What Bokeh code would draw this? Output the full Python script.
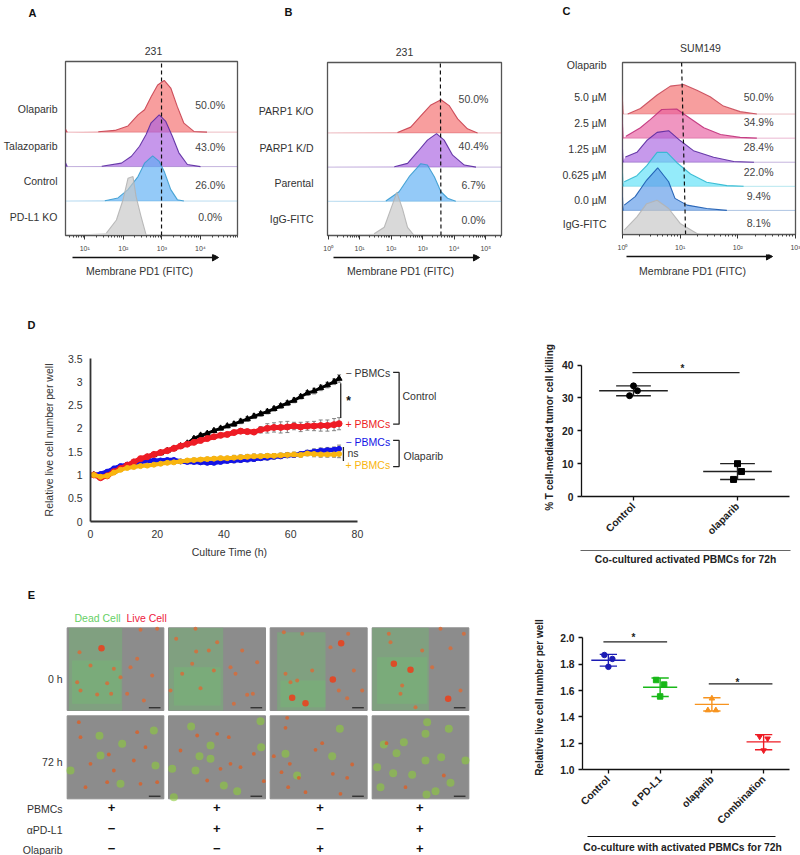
import math
import numpy as np
from bokeh.plotting import figure
from bokeh.layouts import column, row
from bokeh.models import Label, FixedTicker
from bokeh.core.properties import value
from bokeh.embed import file_html
from bokeh.resources import INLINE

FONT = "Liberation Sans"
TXT = "#333333"
TS = 10.5
BS = 10.3

# ---------- panel A (log10 intensity, height in row units)
a_ola_x = [1.35,1.78,2.12,2.38,2.55,2.72,2.89,3.06,3.23,3.40,3.57,3.83,4.17]
a_ola_h = [.01,.05,.18,.5,.65,1.03,1.37,1.5,1.28,.74,.26,.02,0]
a_tal_x = [1.44,1.95,2.21,2.42,2.59,2.72,2.93,3.10,3.27,3.44,3.66,4.0]
a_tal_h = [.01,.1,.3,.59,.93,1.27,1.5,1.31,.88,.4,.06,0]
a_con_x = [1.52,1.86,2.12,2.38,2.55,2.76,2.93,3.06,3.23,3.40,3.57]
a_con_h = [.01,.09,.33,.71,1.1,1.31,1.15,.86,.33,.04,0]
a_ko_x = [1.56,1.82,1.99,2.12,2.25,2.33,2.46,2.59]
a_ko_h = [.07,.45,1.03,1.66,1.71,1.13,.55,.02]
a_labels = ["Olaparib","Talazoparib","Control","PD-L1 KO"]
a_pct = ["50.0%","43.0%","26.0%","0.0%"]

# ---------- panel B
b_ko_x = [2.2,2.62,2.94,3.26,3.58,3.84,4.11,4.42,4.74]
b_ko_h = [.01,.17,.5,.82,.97,.8,.41,.12,0]
b_kd_x = [2.1,2.52,2.84,3.15,3.44,3.68,3.95,4.32,4.69]
b_kd_h = [.01,.11,.45,.79,.98,.79,.35,.06,0]
b_par_x = [1.83,2.25,2.57,2.94,3.15,3.37,3.58,3.79,4.05]
b_par_h = [.01,.28,.72,1.1,1.06,.72,.28,.09,0]
b_igg_x = [1.46,1.78,1.99,2.18,2.36,2.52,2.73]
b_igg_h = [.05,.24,.78,1.26,.78,.24,0]
b_labels = ["PARP1 K/O","PARP1 K/D","Parental","IgG-FITC"]
b_pct = ["50.0%","40.4%","6.7%","0.0%"]

# ---------- panel C
c_5_x = [.09,.31,.6,.83,1.06,1.29,1.52,1.75,2.04,2.33]
c_5_h = [0,.23,.79,1.16,1.23,.99,.72,.33,.1,0]
c_25_x = [.06,.31,.48,.68,.94,1.12,1.41,1.7,2.04,2.33]
c_25_h = [.08,.43,.77,1.19,1.21,.91,.43,.15,.03,0]
c_125_x = [.05,.25,.42,.6,.8,1.0,1.23,1.58,1.93,2.28]
c_125_h = [.22,.41,.9,1.24,1.31,.9,.48,.21,.03,0]
c_0625_x = [.03,.25,.42,.6,.77,.94,1.18,1.46,1.81,2.1]
c_0625_h = [.19,.44,.86,1.41,1.41,.99,.51,.17,.03,0]
c_0_x = [.03,.22,.42,.61,.8,.91,1.12,1.46,1.81]
c_0_h = [.22,.57,1.26,1.77,1.19,.5,.22,.08,0]
c_igg_x = [.03,.25,.42,.6,.8,1.0,1.29,1.35]
c_igg_h = [.18,.73,1.28,1.42,1.08,.46,.04,0]
c_labels = ["Olaparib","5.0 µM","2.5 µM","1.25 µM","0.625 µM","0.0 µM","IgG-FITC"]
c_pct = ["50.0%","34.9%","28.4%","22.0%","9.4%","8.1%"]

# ---------- panel D
d_t = [1,3,5,7,9,11,13,15,17,19,21,23,25,27,29,31,33,35,37,39,41,43,45,47,49,51,53,55,57,59,61,63,65,67,69,71,73,74.5]
d_ctrl_minus = [1.0,.95,1.0,1.07,1.13,1.2,1.27,1.33,1.38,1.43,1.47,1.52,1.57,1.62,1.68,1.78,1.85,1.89,1.95,2.0,2.05,2.09,2.15,2.2,2.26,2.31,2.36,2.42,2.48,2.54,2.6,2.68,2.76,2.8,2.87,2.93,3.0,3.07]
d_ctrl_plus = [1.0,.94,.98,1.07,1.14,1.21,1.28,1.35,1.39,1.44,1.48,1.52,1.57,1.62,1.66,1.70,1.74,1.78,1.82,1.85,1.87,1.91,1.94,1.93,1.92,1.97,2.0,2.02,2.02,2.03,2.05,2.03,2.05,2.05,2.06,2.06,2.08,2.1]
d_ola_minus = [1.0,1.02,1.07,1.14,1.19,1.22,1.25,1.28,1.30,1.31,1.31,1.32,1.32,1.29,1.28,1.28,1.27,1.26,1.26,1.28,1.30,1.31,1.32,1.33,1.34,1.36,1.37,1.39,1.40,1.42,1.43,1.45,1.48,1.50,1.52,1.53,1.54,1.56]
d_ola_plus = [1.0,.96,.98,1.05,1.11,1.15,1.17,1.19,1.2,1.22,1.24,1.26,1.27,1.29,1.31,1.32,1.33,1.34,1.35,1.36,1.36,1.37,1.38,1.39,1.40,1.40,1.41,1.41,1.42,1.43,1.44,1.43,1.46,1.45,1.44,1.44,1.44,1.45]
d_err_minus = [.02,.02,.02,.02,.02,.02,.02,.02,.03,.03,.03,.03,.03,.03,.03,.04,.04,.04,.04,.04,.04,.05,.05,.05,.05,.05,.05,.05,.05,.05,.05,.05,.05,.06,.06,.06,.06,.08]
d_err_plus = [.02,.02,.02,.02,.02,.02,.02,.02,.03,.03,.03,.03,.03,.03,.03,.03,.03,.03,.03,.04,.04,.04,.05,.05,.05,.07,.1,.1,.12,.12,.08,.1,.09,.1,.12,.12,.13,.13]
d_yticks = [0,.5,1,1.5,2,2.5,3,3.5]
d_ylabels = ["0","0.5","1","1.5","2","2.5","3","3.5"]

# ---------- panel F (right of D)
f_cats = ["Control","olaparib"]
f_ctrl = [33.7,32.2,30.7]
f_ola = [10.0,7.6,5.2]
# ---------- panel G (right of E)
g_cats = ["Control","α PD-L1","olaparib","Combination"]
g_ctrl = [1.87,1.84,1.78]
g_apd = [1.68,1.645,1.555]
g_ola = [1.45,1.45,1.54]
g_comb = [1.25,1.235,1.145]
g_means = [1.83,1.625,1.495,1.21]
g_hi = [1.875,1.695,1.545,1.265]
g_lo = [1.785,1.555,1.445,1.15]
g_colors = ["#1c1cb4","#18b818","#f7931e","#ee1c25"]

e_col_l = [200,504,809,1115]
e_col_r = [490,795,1100,1405]
e_row_t = [112,376]
e_row_b = [360,625]
e_green_l = [205,505,830,1115]
e_green_r = [365,668,975,1285]
e_green_t = [112,112,125,112]
e_core_l = [215,520,840,1130]
e_core_r = [360,660,975,1280]
e_core_t = [210,230,270,200]
e_core_b = [340,345,350,340]
e_red0_x = [340,332,270,290,237,420,410,455,390,320,240,230,380,470,360,430,
            587,650,527,585,600,545,690,705,757,740,725,625,770,700,510,640,575,
            990,1040,1015,850,905,855,890,870,1043,1060,935,1085,
            1350,1165,1205,1245,1320,1295,1380,1170,1200,1390,1265]
e_red0_y = [235,310,225,312,185,118,205,255,230,278,300,275,310,115,260,330,
            183,155,145,115,293,250,230,250,310,313,180,180,215,340,300,240,220,
            170,323,300,125,130,250,270,275,130,240,240,300,
            173,130,285,350,115,230,300,155,310,130,180]
e_big_x = [303,1022,997,875,915,1343,1180,1230]
e_big_y = [173,158,267,322,338,325,220,238]
e_green72_x = [460,297,465,365,300,210,360,572,782,630,630,597,585,710,670,520,515,780,
               1018,995,855,890,1275,1345,1150,1188,1322,1275,1178,1235,1130,1350,1305,1140,1395,1280,1278,1210]
e_green72_y = [420,436,525,460,495,540,580,408,470,465,505,497,540,602,585,620,535,392,
               415,497,490,555,430,415,462,488,500,510,548,553,530,577,602,590,510,395,612,455]
e_red72_x = [235,410,325,435,400,320,255,420,340,470,270,240,690,660,685,790,760,650,590,540,720,620,
             860,945,965,855,1055,843,868,997,863,915,1040,820,895,1020,1158,1215,1330]
e_red72_y = [395,425,492,470,510,575,590,580,540,575,520,440,520,535,440,572,490,430,435,480,530,570,
             382,478,458,412,522,545,520,550,590,605,562,497,562,610,458,590,555]
e_pbmc = ["+","+","+","+"]
e_apd = ["−","+","−","+"]
e_olap = ["−","−","+","+"]
e_sign_x = [333,649,959,1258]


def base_fig(w, h, l, r, t, b, **kw):
    p = figure(width=w, height=h, output_backend="svg", toolbar_location=None, frame_align=False,
               min_border_left=l, min_border_right=r, min_border_top=t, min_border_bottom=b,
               background_fill_color="white", border_fill_color="white", **kw)
    p.grid.visible = False
    return p


def strip(x0, x1, y0, y1):
    """Text band in page pixels, for what lies outside a plot frame."""
    p = base_fig(x1 - x0, y1 - y0, 0, 0, 0, 0, x_range=(x0, x1), y_range=(y1, y0),
                 x_axis_location=None, y_axis_location=None)
    p.outline_line_color = None
    return p


def slab(p, x, y, text, size=TS, color=TXT, align="center", bold=False):
    p.text(x=[x], y=[y], text=[text], text_font=value(FONT), text_font_size=f"{size}px", text_color=color,
           text_align=align, text_baseline="middle", text_font_style="bold" if bold else "normal")


def arrow(p, x0, x1, y):
    p.line([x0, x1 - 3], [y, y], line_color="#111111", line_width=1.5)
    p.scatter([x1 - 3], [y], marker="triangle", size=7, angle=-math.pi / 2, color="#111111")


def lab(p, ox, oy, px, py, text, size=TS, color=TXT, align="center", bold=False):
    p.add_layout(Label(x=px - ox, y=py - oy, x_units="canvas", y_units="canvas", text=text,
                       text_font=FONT, text_font_size=f"{size}px", text_color=color,
                       text_align=align, text_baseline="middle",
                       text_font_style="bold" if bold else "normal"))


def hist_fig(w, h, l, r, t, b, xlog, nrows_top, labels, label_pos, standoff, decades):
    p = base_fig(w, h, l, r, t, b, x_axis_type="log",
                 x_range=(10 ** xlog[0], 10 ** xlog[1]), y_range=(0, nrows_top))
    p.outline_line_color = "#555555"
    p.outline_line_width = 1.3
    ax = p.xaxis[0]
    ax.ticker = FixedTicker(ticks=[10.0 ** d for d in decades],
                            minor_ticks=[k * 10.0 ** d for d in range(int(xlog[0]) - 1, int(xlog[1]) + 1)
                                         for k in range(2, 10)])
    sup = "⁰¹²³⁴⁵"
    ax.major_label_overrides = {10.0 ** d: "10" + sup[d] for d in decades}
    ax.major_label_text_font = FONT
    ax.major_label_text_font_size = "7px"
    ax.major_label_text_color = "#444444"
    ax.major_label_standoff = 5
    ax.major_tick_out = 4
    ax.major_tick_in = 0
    ax.minor_tick_out = 2
    ax.minor_tick_in = 0
    ax.axis_line_color = "#555555"
    ax.major_tick_line_color = "#333333"
    ax.minor_tick_line_color = "#444444"
    ay = p.yaxis[0]
    ay.ticker = FixedTicker(ticks=label_pos)
    ay.major_label_overrides = dict(zip(label_pos, labels))
    ay.major_label_text_font = FONT
    ay.major_label_text_font_size = f"{TS}px"
    ay.major_label_text_color = TXT
    ay.major_label_standoff = standoff
    ay.major_tick_out = 0
    ay.major_tick_in = 0
    ay.minor_tick_out = 0
    ay.minor_tick_in = 0
    ay.major_tick_line_color = None
    ay.minor_tick_line_color = None
    ay.axis_line_color = None
    return p


def ridge(p, base, xs, hs, fill, line, xlog, alpha=0.65, left=None):
    lx = list(xs)
    lh = list(hs)
    x = 10 ** np.array(lx)
    y = base + np.array(lh, dtype=float)
    xf = 10 ** np.array([xlog[0]] + lx + [xlog[1]])
    yf = base + np.array([0] + lh + [0], dtype=float)
    p.varea(x=xf, y1=base, y2=yf, fill_color=fill, fill_alpha=alpha)
    p.line(x=[xf[0], xf[-1]], y=[base, base], line_color=line, line_width=1.0, line_alpha=0.35)
    p.line(x=x, y=y, line_color=line, line_width=1.1, line_alpha=0.9)
    if left is not None:
        sx = 10 ** np.array([xlog[0], xlog[0] + left[1]])
        p.varea(x=sx, y1=base, y2=[base + left[0], base], fill_color=line, fill_alpha=.9)


def pct(p, xlog, ys, texts):
    p.text(x=[10 ** xlog] * len(ys), y=ys, text=texts, text_font=value(FONT), text_font_size=f"{TS}px",
           text_color="#444444", text_align="center", text_baseline="middle")


RED, REDL = "#f46a6a", "#c8404f"
PUR, PURL = "#a85fe0", "#5a2aa0"
BLU, BLUL = "#5aaef5", "#3a9cd0"
GRY, GRYL = "#c4c4c4", "#b4b4b4"

# ----- A
xl = (.5, 4.96)
A = hist_fig(255, 198, 63, 18, 5, 18, xl, 5.05, a_labels, [3.66, 2.6, 1.57, .54], 8, [1, 2, 3, 4])
ridge(A, 3, a_ola_x, a_ola_h, RED, REDL, xl, left=(.12, .06))
ridge(A, 2, a_tal_x, a_tal_h, PUR, PURL, xl, left=(.15, .06))
ridge(A, 1, a_con_x, a_con_h, BLU, BLUL, xl)
ridge(A, 0, a_ko_x, a_ko_h, GRY, GRYL, xl)
A.line([10 ** 2.99, 10 ** 2.99], [0, 5.05], line_color="#111111", line_dash="4 3", line_width=1.2)
pct(A, 4.25, [3.78, 2.56, 1.47, .53], a_pct)
A_top = strip(0, 255, 0, 56)
slab(A_top, 32, 12, "A", 11, "#111111", bold=True)
slab(A_top, 153, 50, "231")
A_bot = strip(0, 255, 254, 290)
arrow(A_bot, 72, 217, 257)
slab(A_bot, 139, 270, "Membrane PD1 (FITC)")

# ----- B
xl = (-.02, 5.5)
B = hist_fig(285, 198, 72, 39, 6, 19, xl, 5.06, b_labels, [3.63, 2.55, 1.55, .49], 14, [0, 1, 2, 3, 4, 5])
ridge(B, 3, b_ko_x, b_ko_h, RED, REDL, xl)
ridge(B, 2, b_kd_x, b_kd_h, PUR, PURL, xl)
ridge(B, 1, b_par_x, b_par_h, BLU, BLUL, xl)
ridge(B, 0, b_igg_x, b_igg_h, GRY, GRYL, xl)
B.line([10 ** 3.58, 10 ** 3.56], [0, 5.06], line_color="#111111", line_dash="4 3", line_width=1.2)
pct(B, 4.61, [3.99, 2.61, 1.48, .45], b_pct)
B_top = strip(255, 540, 0, 56)
slab(B_top, 288, 11, "B", 11, "#111111", bold=True)
slab(B_top, 404, 51, "231")
B_bot = strip(255, 540, 254, 290)
arrow(B_bot, 333, 478, 257)
slab(B_bot, 400, 270, "Membrane PD1 (FITC)")

# ----- C
xl = (0, 3)
C = hist_fig(260, 198, 82, 5, 6, 20, xl, 7.14, c_labels, [7.04, 5.7, 4.63, 3.54, 2.46, 1.45, .43], 16, [0, 1, 2, 3])
ridge(C, 5, c_5_x, c_5_h, "#f26a6a", "#c84a5a", xl, left=(.96, .02))
ridge(C, 4, c_25_x, c_25_h, "#e85ea0", "#c0307a", xl, left=(1.05, .02))
ridge(C, 3, c_125_x, c_125_h, "#a862e0", "#5a2aa0", xl, left=(1.0, .02))
ridge(C, 2, c_0625_x, c_0625_h, "#5ae0f8", "#30b8d0", xl, left=(1.0, .02))
ridge(C, 1, c_0_x, c_0_h, "#5a98e8", "#1a5ab0", xl, left=(1.0, .02))
ridge(C, 0, c_igg_x, c_igg_h, GRY, GRYL, xl)
C.line([10 ** 1.094, 10 ** 1.025], [0, 7.14], line_color="#111111", line_dash="4 3", line_width=1.2)
pct(C, 2.36, [5.7, 4.65, 3.62, 2.58, 1.59, .48], c_pct)
C_top = strip(540, 800, 0, 56)
slab(C_top, 566, 10, "C", 11, "#111111", bold=True)
slab(C_top, 700, 47, "SUM149")
C_bot = strip(540, 800, 254, 290)
arrow(C_bot, 626, 771, 256)
slab(C_bot, 692, 270, "Membrane PD1 (FITC)")

# ----- D
D = base_fig(500, 193, 90, 55, 8, 22, x_range=(0, 106.4), y_range=(0, 3.5))
D.outline_line_color = None
D.xaxis.bounds = (0, 80)
D.xaxis.ticker = FixedTicker(ticks=[0, 20, 40, 60, 80])
D.yaxis.ticker = FixedTicker(ticks=d_yticks)
D.yaxis.major_label_overrides = dict(zip(d_yticks, d_ylabels))
D.yaxis.axis_label = "Relative live cell number per well"
D.yaxis.axis_label_text_font = FONT
D.yaxis.axis_label_text_font_size = f"{TS}px"
D.yaxis.axis_label_text_font_style = "normal"
D.yaxis.axis_label_text_color = TXT
D.yaxis.axis_label_standoff = 10
for ax in (D.xaxis[0], D.yaxis[0]):
    ax.major_tick_out = 0
    ax.major_tick_in = 0
    ax.minor_tick_out = 0
    ax.minor_tick_in = 0
    ax.major_tick_line_color = None
    ax.minor_tick_line_color = None
    ax.axis_line_color = "#333333"
    ax.axis_line_width = 1.8
    ax.major_label_text_font = FONT
    ax.major_label_text_font_size = f"{TS}px"
    ax.major_label_text_color = TXT
D.xaxis.major_label_standoff = 8
D.yaxis.major_label_standoff = 8
t = np.array(d_t)
for s, e in ((d_ctrl_minus, d_err_minus), (d_ctrl_plus, d_err_plus), (d_ola_minus, d_err_minus), (d_ola_plus, d_err_minus)):
    s = np.array(s); e = np.array(e)
    D.segment(t, s - e, t, s + e, line_color="#777777", line_width=0.9)
    D.segment(t - .6, s + e, t + .6, s + e, line_color="#777777", line_width=0.9)
    D.segment(t - .6, s - e, t + .6, s - e, line_color="#777777", line_width=0.9)
D.line(t, d_ctrl_minus, line_color="black", line_width=3)
D.scatter(t, d_ctrl_minus, marker="triangle", size=6, color="black")
D.line(t, d_ola_minus, line_color="#1414e6", line_width=4.5)
D.scatter(t, d_ola_minus, marker="circle", size=5, color="#1414e6")
D.line(t, d_ctrl_plus, line_color="#ee1c25", line_width=5)
D.scatter(t, d_ctrl_plus, marker="circle", size=6, color="#ee1c25")
D.line(t, d_ola_plus, line_color="#f9b50f", line_width=4)
D.scatter(t, d_ola_plus, marker="circle", size=5, color="#f9b50f")
D.line([75, 75], [2.22, 2.97], line_color="#222222", line_width=1.3)
D.line([75.8, 75.8], [1.3, 1.6], line_color="#222222", line_width=1.3)
D.line([90.7, 92.5, 92.5, 90.7], [3.2, 3.2, 2.09, 2.09], line_color="#222222", line_width=1.3)
D.line([90.7, 92.5, 92.5, 90.7], [1.74, 1.74, 1.18, 1.18], line_color="#222222", line_width=1.3)
lab(D, 0, 350, 345, 372, "− PBMCs", align="left")
lab(D, 0, 350, 345, 423, "+ PBMCs", color="#ee1c25", align="left")
lab(D, 0, 350, 345, 441, "− PBMCs", color="#1414e6", align="left")
lab(D, 0, 350, 345, 464, "+ PBMCs", color="#f9b50f", align="left")
lab(D, 0, 350, 347, 452, "ns", align="left")
lab(D, 0, 350, 348, 400, "*", 12, "#111111", bold=True)
lab(D, 0, 350, 402, 395, "Control", align="left")
lab(D, 0, 350, 403, 455, "Olaparib", align="left")
D_top = strip(0, 500, 290, 350)
slab(D_top, 31, 324, "D", 11, "#111111", bold=True)
D_bot = strip(0, 500, 543, 590)
slab(D_bot, 229, 551, "Culture Time (h)")


def dot_axes(p, cats, ylabel, standoff, yticks, ylabels, bounds):
    n = len(cats)
    ticks = [i + .5 for i in range(n)]
    p.outline_line_color = None
    p.yaxis.bounds = bounds
    p.xaxis.ticker = FixedTicker(ticks=ticks)
    p.xaxis.major_label_overrides = dict(zip(ticks, cats))
    p.xaxis.major_label_orientation = math.pi / 4
    p.yaxis.ticker = FixedTicker(ticks=yticks)
    p.yaxis.major_label_overrides = dict(zip(yticks, ylabels))
    p.yaxis.axis_label = ylabel
    p.yaxis.axis_label_text_font = FONT
    p.yaxis.axis_label_text_font_size = "10px"
    p.yaxis.axis_label_text_font_style = "bold"
    p.yaxis.axis_label_text_color = "#222222"
    p.yaxis.axis_label_standoff = standoff
    for ax in (p.xaxis[0], p.yaxis[0]):
        ax.minor_tick_line_color = None
        ax.minor_tick_out = 0
        ax.minor_tick_in = 0
        ax.axis_line_color = "#111111"
        ax.axis_line_width = 1.3
        ax.major_tick_line_color = "#111111"
        ax.major_tick_line_width = 1.3
        ax.major_tick_out = 4
        ax.major_tick_in = 0
        ax.major_label_text_font = FONT
        ax.major_label_text_font_size = f"{BS}px"
        ax.major_label_text_font_style = "bold"
        ax.major_label_text_color = "#222222"
        ax.major_label_standoff = 4


def mean_sd(p, xc, mean, hi, lo, color, half=.33, cap=.167):
    p.segment([xc - half, xc - cap, xc - cap, xc], [mean, hi, lo, lo], [xc + half, xc + cap, xc + cap, xc], [mean, hi, lo, hi],
              line_color=color, line_width=1.4)


# ----- F
F = base_fig(300, 208, 81, 11, 23, 40, x_range=(0, 2), y_range=(0, 42.03))
dot_axes(F, f_cats, "% T cell-mediated tumor cell killing", 4, [0, 10, 20, 30, 40], ["0", "10", "20", "30", "40"], (0, 40))
mean_sd(F, .5, f_ctrl[1], f_ctrl[0], f_ctrl[2], "#222222")
mean_sd(F, 1.5, f_ola[1], f_ola[0], f_ola[2], "#222222")
F.scatter([.5, .538, .462], f_ctrl, marker="circle", size=6, color="black")
F.scatter([1.5, 1.538, 1.462], f_ola, marker="square", size=6, color="black")
F.line([.49, 1.52], [37.7, 37.7], line_color="#222222", line_width=1.3)
lab(F, 500, 335, 682, 368, "*", 10, "#222222", bold=True)
F_top = strip(500, 800, 290, 335)
F_bot = strip(500, 800, 543, 590)
F_bot.line([580, 790], [550, 550], line_color="#666666", line_width=1.2)
slab(F_bot, 685, 559, "Co-cultured activated PBMCs for 72h", BS, "#222222", bold=True)

# ----- E
E = strip(0, 500, 590, 855)
px = lambda vals: [v / 3 for v in vals]
py = lambda vals: [590 + v / 3 for v in vals]
for top, bot in zip(e_row_t, e_row_b):
    E.quad(left=px(e_col_l), right=px(e_col_r), top=py([top] * 4), bottom=py([bot] * 4), color="#8c8c8c")
E.quad(left=px(e_green_l), right=px(e_green_r), top=py(e_green_t), bottom=py([360] * 4),
       color="#74b474", fill_alpha=.5, line_color=None)
E.quad(left=px(e_core_l), right=px(e_core_r), top=py(e_core_t), bottom=py(e_core_b),
       color="#6cc86c", fill_alpha=.3, line_color=None)
E.scatter(px(e_red0_x), py(e_red0_y), marker="circle", size=4, color="#dc6a34", alpha=.8, line_color=None)
E.scatter(px(e_big_x), py(e_big_y), marker="circle", size=6.5, color="#e8431f", alpha=.9, line_color=None)
E.scatter(px(e_green72_x), py(e_green72_y), marker="circle", size=8, color="#8ccc3a", alpha=.6, line_color=None)
E.scatter(px(e_red72_x), py(e_red72_y), marker="circle", size=3.8, color="#d8622c", alpha=.85, line_color=None)
E.segment(x0=px([x - 45 for x in e_col_r] * 2), y0=[707.3] * 4 + [795.7] * 4, x1=px([x - 10 for x in e_col_r] * 2), y1=[707.3] * 4 + [795.7] * 4,
          line_color="#111111", line_width=1)
slab(E, 31, 594, "E", 11, "#111111", bold=True)
slab(E, 74, 617, "Dead Cell", color="#66d066", align="left")
slab(E, 126, 617, "Live Cell", color="#ee2040", align="left")
slab(E, 62, 678, "0 h", align="right")
slab(E, 62, 761, "72 h", align="right")
slab(E, 62, 808, "PBMCs", align="right")
slab(E, 62, 829, "αPD-L1", align="right")
slab(E, 62, 849, "Olaparib", align="right")
for ys, marks in ((807, e_pbmc), (828, e_apd), (848, e_olap)):
    E.text(x=px(e_sign_x), y=[ys] * 4, text=marks, text_font=value(FONT), text_font_size="13px",
           text_font_style="bold", text_color="#111111", text_align="center", text_baseline="middle")

# ----- G
G = base_fig(300, 227, 82, 11, 20, 55, x_range=(0, 4), y_range=(1, 2.094))
dot_axes(G, g_cats, "Relative live cell number per well", 12, [1, 1.2, 1.4, 1.6, 1.8, 2], ["1.0", "1.2", "1.4", "1.6", "1.8", "2.0"], (1, 2))
for i in range(4):
    mean_sd(G, i + .5, g_means[i], g_hi[i], g_lo[i], g_colors[i])
G.scatter([.423, .577, .5], g_ctrl, marker="circle", size=5.5, color=g_colors[0])
G.scatter([1.423, 1.577, 1.5], g_apd, marker="square", size=5.5, color=g_colors[1])
G.scatter([2.423, 2.577, 2.5], g_ola, marker="triangle", size=5.5, color=g_colors[2])
G.scatter([3.423, 3.577, 3.5], g_comb, marker="inverted_triangle", size=5.5, color=g_colors[3])
G.line([.404, 1.635], [1.97, 1.97], line_color="#222222", line_width=1.3)
G.line([2.44, 3.67], [1.65, 1.65], line_color="#222222", line_width=1.3)
lab(G, 500, 605, 633, 637, "*", 10, "#222222", bold=True)
lab(G, 500, 605, 737, 682, "*", 10, "#222222", bold=True)
G_top = strip(500, 800, 590, 605)
G_bot = strip(500, 800, 832, 855)
G_bot.line([587, 775], [836, 836], line_color="#111111", line_width=1.2)
slab(G_bot, 682, 847, "Co-culture with activated PBMCs for 72h", BS, "#222222", bold=True)


def stack(*figs):
    return column(*figs, spacing=0)


page = column(
    row(stack(A_top, A, A_bot), stack(B_top, B, B_bot), stack(C_top, C, C_bot), spacing=0),
    row(stack(D_top, D, D_bot), stack(F_top, F, F_bot), spacing=0),
    row(E, stack(G_top, G, G_bot), spacing=0),
    spacing=0)
open("out.html", "w").write(file_html(page, INLINE))
